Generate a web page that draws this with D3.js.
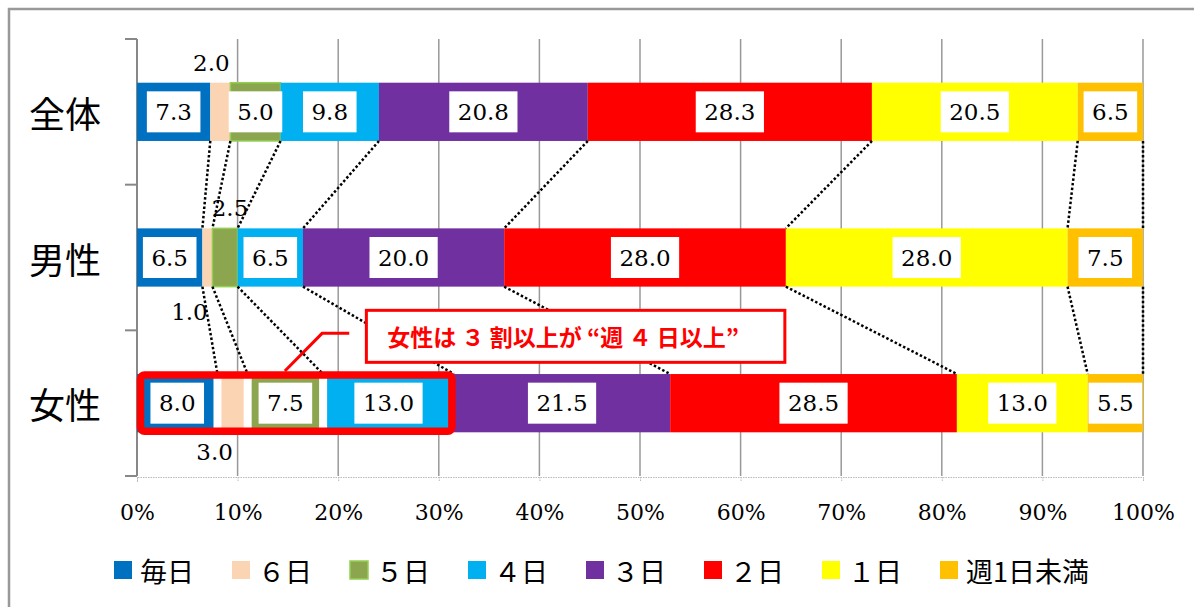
<!DOCTYPE html>
<html>
<head>
<meta charset="utf-8">
<script src="https://cdn.jsdelivr.net/npm/d3@7"></script>
<style>
  body { margin: 0; background: #fff; }
  .num { font-family: 'DejaVu Serif', serif; }
  .jp { font-family: 'Noto Sans CJK JP', sans-serif; }
</style>
</head>
<body>
<svg id="chart" width="1194" height="607"></svg>
<script>
// data
const categories = ['全体', '男性', '女性'];
const seriesNames = ['毎日', '６日', '５日', '４日', '３日', '２日', '１日', '週1日未満'];
const everyDay = [7.3, 6.5, 8.0];
const sixDays = [2.0, 1.0, 3.0];
const fiveDays = [5.0, 2.5, 7.5];
const fourDays = [9.8, 6.5, 13.0];
const threeDays = [20.8, 20.0, 21.5];
const twoDays = [28.3, 28.0, 28.5];
const oneDay = [20.5, 28.0, 13.0];
const underWeekly = [6.5, 7.5, 5.5];
const tickValues = [0, 0.1, 0.2, 0.3, 0.4, 0.5, 0.6, 0.7, 0.8, 0.9, 1.0];
const calloutText = '女性は ３ 割以上が “週 ４ 日以上”';

const seriesValues = [everyDay, sixDays, fiveDays, fourDays, threeDays, twoDays, oneDay, underWeekly];
const colors = ['#0070c0', '#fbd4b4', '#8ca64f', '#00b0f0', '#7030a0', '#ff0000', '#ffff00', '#ffc000'];

// small labels sit outside the bar (offset from segment centre)
const outsideLabels = [
  {cat: '全体', key: '６日', dx: -9, dy: -49},
  {cat: '男性', key: '６日', dx: -18, dy: 54},
  {cat: '男性', key: '５日', dx: 5, dy: -50},
  {cat: '女性', key: '６日', dx: -18, dy: 49}
];

const svg = d3.select('#chart');
const x0 = 137, x1 = 1143, y0 = 39, y1 = 476;

// outer frame (only top/left fall inside the picture)
svg.append('rect')
  .attr('x', 9).attr('y', 9).attr('width', 1400).attr('height', 800)
  .attr('fill', 'none').attr('stroke', '#999').attr('stroke-width', 2.5);

const rows = categories.map((c, i) => {
  const r = {cat: c};
  seriesNames.forEach((s, j) => r[s] = seriesValues[j][i]);
  return r;
});
const stacked = d3.stack().keys(seriesNames).offset(d3.stackOffsetExpand)(rows);

const xScale = d3.scaleLinear().domain([0, 1]).range([x0, x1]);
const yScale = d3.scaleBand().domain(categories).range([y0, y1]).padding(0);
const barH = yScale.bandwidth() * 0.4;
const barTop = c => yScale(c) + (yScale.bandwidth() - barH) / 2;
const barMid = c => yScale(c) + yScale.bandwidth() / 2;

// gridlines
svg.append('g').selectAll('line')
  .data(tickValues.slice(1))
  .join('line')
    .attr('x1', d => xScale(d)).attr('x2', d => xScale(d))
    .attr('y1', y0).attr('y2', y1)
    .attr('stroke', '#999').attr('stroke-width', 1.5);

// x axis
const xAxisG = svg.append('g')
  .attr('transform', `translate(0, ${y1 + 1})`)
  .call(d3.axisBottom(xScale).tickValues(tickValues).tickFormat(d3.format('.0%')).tickSize(5).tickPadding(22));
xAxisG.select('.domain').attr('stroke', '#bbb').attr('stroke-dasharray', '1.5,1');
xAxisG.selectAll('.tick line').attr('stroke', '#bbb').attr('stroke-dasharray', '1.5,1');
xAxisG.selectAll('text')
  .attr('class', 'num').attr('fill', '#000')
  .style('font-size', '22px');

// y axis with ticks on category boundaries
const yAxisG = svg.append('g');
yAxisG.append('line')
  .attr('x1', x0).attr('x2', x0).attr('y1', y0).attr('y2', y1)
  .attr('stroke', '#888').attr('stroke-width', 2);
const bounds = categories.map(c => yScale(c)).concat([y1]);
yAxisG.selectAll('.btick').data(bounds).join('line')
  .attr('class', 'btick')
  .attr('x1', x0 - 12).attr('x2', x0).attr('y1', d => d).attr('y2', d => d)
  .attr('stroke', '#888').attr('stroke-width', 2);
yAxisG.selectAll('text').data(categories).join('text')
  .attr('class', 'jp')
  .attr('x', 65).attr('y', d => barMid(d))
  .attr('text-anchor', 'middle').attr('dominant-baseline', 'central')
  .style('font-size', '36px')
  .text(d => d);

// bars
const layers = svg.append('g').selectAll('g')
  .data(stacked)
  .join('g')
    .attr('fill', (d, i) => colors[i])
    .attr('stroke', d => d.key === '５日' ? '#92d050' : 'none')
    .attr('stroke-width', 1.5);
layers.selectAll('rect')
  .data(d => d)
  .join('rect')
    .attr('x', d => xScale(d[0]))
    .attr('y', d => barTop(d.data.cat))
    .attr('width', d => xScale(d[1]) - xScale(d[0]))
    .attr('height', barH);

// highlight on 女性: white gaps between the first four segments
const hlCat = '女性', hlCount = 4;
const hlIdx = categories.indexOf(hlCat);
svg.append('g').selectAll('line')
  .data(stacked.slice(0, hlCount - 1).map(s => s[hlIdx][1]))
  .join('line')
    .attr('x1', d => xScale(d)).attr('x2', d => xScale(d))
    .attr('y1', barTop(hlCat)).attr('y2', barTop(hlCat) + barH)
    .attr('stroke', '#fff').attr('stroke-width', 8);

// data labels
const fmt = d3.format('.1f');
const labelG = svg.append('g');
stacked.forEach((s, j) => {
  s.forEach((d, i) => {
    const cat = categories[i];
    const v = seriesValues[j][i];
    const cx = xScale((d[0] + d[1]) / 2);
    const cy = barMid(cat);
    const out = outsideLabels.find(o => o.cat === cat && o.key === s.key);
    if (out) {
      labelG.append('text')
        .attr('class', 'num')
        .attr('x', cx + out.dx).attr('y', cy + out.dy)
        .attr('text-anchor', 'middle').attr('dominant-baseline', 'central')
        .style('font-size', '23px')
        .text(fmt(v));
      return;
    }
    const box = labelG.append('rect').attr('fill', '#fff');
    const t = labelG.append('text')
      .attr('class', 'num')
      .attr('x', cx).attr('y', cy)
      .attr('text-anchor', 'middle').attr('dominant-baseline', 'central')
      .style('font-size', '23px')
      .text(fmt(v));
    const w = t.node().getComputedTextLength() + 17;
    box.attr('x', cx - w / 2).attr('y', cy - 20.5).attr('width', w).attr('height', 41);
  });
});

// series lines between bars
const connG = svg.append('g');
for (let i = 0; i < categories.length - 1; i++) {
  const a = categories[i], b = categories[i + 1];
  stacked.forEach(s => {
    connG.append('line')
      .attr('x1', xScale(s[i][1])).attr('y1', barTop(a) + barH)
      .attr('x2', xScale(s[i + 1][1])).attr('y2', barTop(b))
      .attr('stroke', '#000').attr('stroke-width', 2.5)
      .attr('stroke-dasharray', '2.5,2.2');
  });
}

// red frame around first four segments of 女性
const hlEnd = stacked[hlCount - 1][hlIdx][1];
svg.append('rect')
  .attr('x', xScale(0) + 3.5).attr('y', barTop(hlCat) + 1)
  .attr('width', xScale(hlEnd) - xScale(0) - 5.5).attr('height', barH - 2)
  .attr('rx', 4)
  .attr('fill', 'none').attr('stroke', '#ff0000').attr('stroke-width', 7.5);

// callout
const boxLeft = xScale(0.228), boxRight = xScale(0.644);
const boxTop = yScale(hlCat) - 20, boxH = 52;
svg.append('path')
  .attr('d', d3.line()([
    [xScale(0.147), barTop(hlCat) - 3],
    [xScale(0.184), boxTop + 23],
    [xScale(0.211), boxTop + 23]
  ]))
  .attr('fill', 'none').attr('stroke', '#ff0000').attr('stroke-width', 3);
svg.append('rect')
  .attr('x', boxLeft).attr('y', boxTop)
  .attr('width', boxRight - boxLeft).attr('height', boxH)
  .attr('fill', '#fff').attr('stroke', '#ff0000').attr('stroke-width', 3);
svg.append('text')
  .attr('class', 'jp')
  .attr('x', boxLeft + 21).attr('y', boxTop + boxH / 2)
  .attr('dominant-baseline', 'central')
  .attr('fill', '#ff0000')
  .style('font-size', '23px').style('font-weight', 'bold')
  .text(calloutText);

// legend
const legend = svg.append('g').selectAll('g')
  .data(seriesNames)
  .join('g')
    .attr('transform', (d, i) => `translate(${114 + i * 118}, 570)`);
legend.append('rect')
  .attr('x', 0).attr('y', -9).attr('width', 18).attr('height', 18)
  .attr('fill', (d, i) => colors[i])
  .attr('stroke', d => d === '５日' ? '#92d050' : 'none').attr('stroke-width', 1.5);
legend.append('text')
  .attr('class', 'jp')
  .attr('x', 26).attr('y', 0)
  .attr('dominant-baseline', 'central')
  .style('font-size', '27px')
  .text(d => d);
</script>
</body>
</html>
